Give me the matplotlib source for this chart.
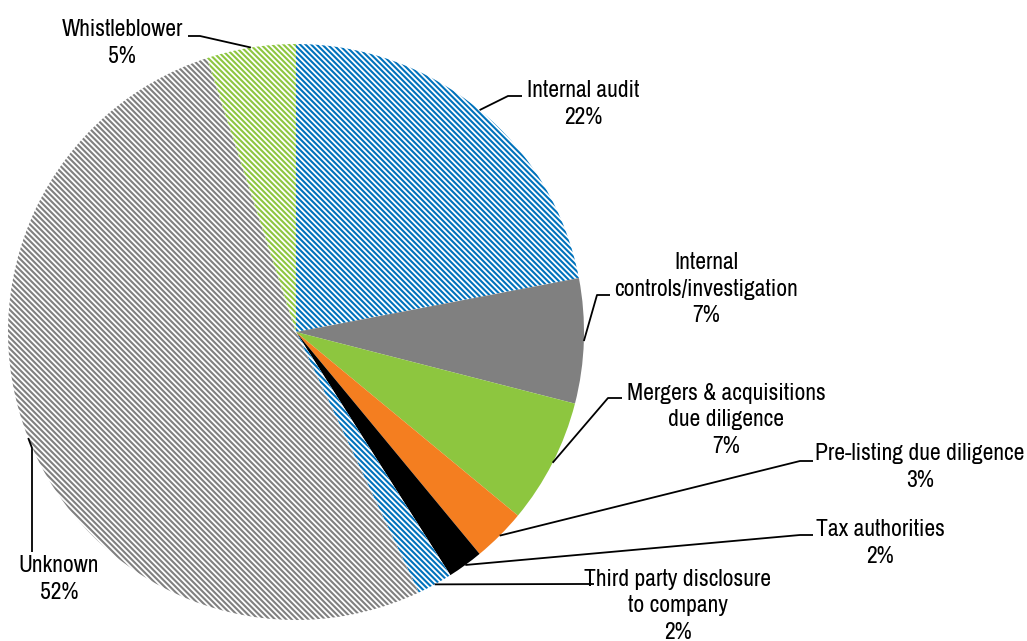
import numpy as np
import matplotlib
matplotlib.use("Agg")
import matplotlib.pyplot as plt

# === Data ===
labels = ["Internal audit", "Internal\ncontrols/investigation", "Mergers & acquisitions\ndue diligence",
          "Pre-listing due diligence", "Tax authorities", "Third party disclosure\nto company",
          "Unknown", "Whistleblower"]
shares = [22, 7, 7, 3, 2, 2, 52, 5]

# === Styles ===
colors = ["#0072BC", "#808080", "#8DC63F", "#F47E20", "#000000", "#0072BC", "#808080", "#8DC63F"]
hatched = [True, False, False, False, False, True, True, True]

# label centres and leader line elbows, in pixels (y down)
text_pos = [(583, 104), (706, 289), (726, 420), (920, 467), (880, 543), (678, 606), (59, 579), (122, 43)]
elbows = [(508, 96), (597, 295), (608, 398), (800, 461), (800, 535), (580, 584), (32, 448), (200, 36)]
line_ends = [(522, 96), (610, 295), (622, 398), (813, 461), (813, 535), (594, 584), (32, 552), (188, 36)]

W, H = 1027, 641
CX, CY, R = 296, 332, 288

plt.rcParams['font.family'] = ['Archivo Narrow', 'Liberation Sans', 'DejaVu Sans']
plt.rcParams['hatch.linewidth'] = 1.5

fig = plt.figure(figsize=(W / 100, H / 100), dpi=100)
ax = fig.add_axes([0, 0, 1, 1])

wedges, _ = ax.pie(shares, center=(CX, H - CY), radius=R, startangle=90, counterclock=False,
                   wedgeprops=dict(linewidth=0))

# pie() resets limits, so fix them afterwards: 1 data unit = 1 pixel
ax.set_xlim(0, W)
ax.set_ylim(0, H)
ax.set_aspect('equal')
ax.axis('off')

for w, c, h in zip(wedges, colors, hatched):
    if h:
        w.set_facecolor("white")
        w.set_edgecolor(c)
        w.set_hatch("\\" * 6)
        w.set_linewidth(0)
    else:
        w.set_facecolor(c)

# === Labels and leader lines ===
for w, lab, pct, tp, el, le in zip(wedges, labels, shares, text_pos, elbows, line_ends):
    mid = np.deg2rad((w.theta1 + w.theta2) / 2)
    ex = CX + R * np.cos(mid)
    ey = (H - CY) + R * np.sin(mid)
    xs = [ex, el[0], le[0]]
    ys = [ey, H - el[1], H - le[1]]
    ax.plot(xs, ys, color="black", lw=1.3, solid_capstyle='butt')
    ax.text(tp[0], H - tp[1], f"{lab}\n{pct}%", ha="center", va="center",
            fontsize=17, linespacing=1.3, color="black")

fig.savefig("out.png", dpi=100)
